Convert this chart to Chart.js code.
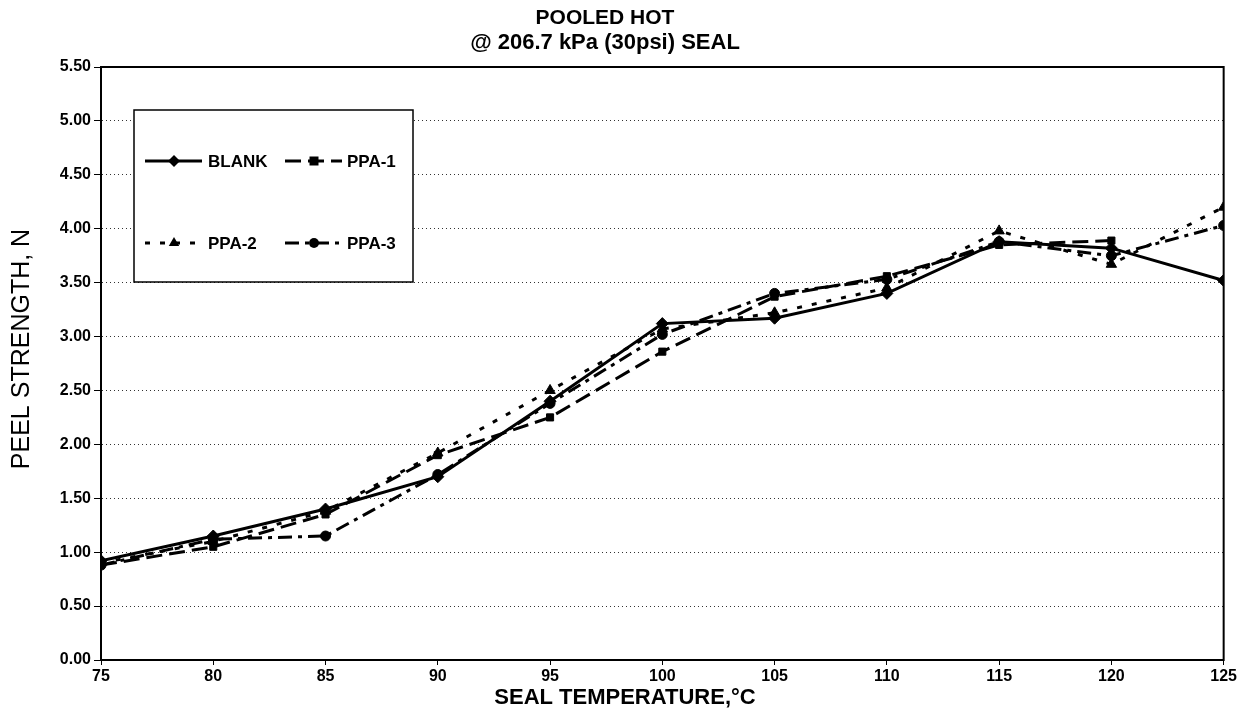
<!DOCTYPE html>
<html><head><meta charset="utf-8">
<script src="https://cdn.jsdelivr.net/npm/chart.js@4/dist/chart.umd.min.js"></script>
<style>html,body{margin:0;padding:0;background:#fff;}</style>
</head><body>
<canvas id="c" width="1239" height="725"></canvas>
<script>
const temperatures = [75, 80, 85, 90, 95, 100, 105, 110, 115, 120, 125];
const blank = [0.92, 1.15, 1.40, 1.70, 2.40, 3.12, 3.17, 3.40, 3.88, 3.82, 3.52];
const ppa1  = [0.88, 1.05, 1.35, 1.90, 2.25, 2.86, 3.37, 3.56, 3.85, 3.89, null];
const ppa2  = [0.90, 1.10, 1.38, 1.92, 2.50, 3.07, 3.22, 3.45, 3.98, 3.67, 4.20];
const ppa3  = [0.88, 1.12, 1.15, 1.72, 2.38, 3.02, 3.40, 3.53, 3.88, 3.75, 4.03];
const seriesNames = ['BLANK', 'PPA-1', 'PPA-2', 'PPA-3'];
const titleLines = ['POOLED HOT', '@ 206.7 kPa (30psi) SEAL'];
const xTitle = 'SEAL TEMPERATURE,\u00B0C';
const yTitle = 'PEEL STRENGTH, N';

const FONT = '"Liberation Sans", Arial, sans-serif';
const toPts = arr => temperatures.map((t, i) => ({x: t, y: arr[i]}));

const styles = [
  {pointStyle: 'rectRot', pointRadius: 6, borderDash: []},
  {pointStyle: 'rect', pointRadius: 5, borderDash: [16, 7]},
  {pointStyle: 'triangle', pointRadius: 6, borderDash: [5, 10]},
  {pointStyle: 'circle', pointRadius: 5, borderDash: [14, 6, 4, 6]}
];
const seriesData = [blank, ppa1, ppa2, ppa3];

const datasets = seriesData.map((arr, i) => ({
  label: seriesNames[i],
  data: toPts(arr),
  borderColor: '#000',
  backgroundColor: '#000',
  pointBackgroundColor: '#000',
  pointBorderColor: '#000',
  borderWidth: 3,
  pointBorderWidth: 1,
  tension: 0,
  spanGaps: false,
  ...styles[i]
}));

function drawMarker(ctx, style, r, x, y) {
  ctx.beginPath();
  if (style === 'rectRot') {
    ctx.moveTo(x, y - r); ctx.lineTo(x + r, y); ctx.lineTo(x, y + r); ctx.lineTo(x - r, y); ctx.closePath();
  } else if (style === 'rect') {
    ctx.rect(x - r * 0.9, y - r * 0.9, r * 1.8, r * 1.8);
  } else if (style === 'triangle') {
    ctx.moveTo(x, y - r); ctx.lineTo(x + r * 0.87, y + r * 0.5); ctx.lineTo(x - r * 0.87, y + r * 0.5); ctx.closePath();
  } else {
    ctx.arc(x, y, r, 0, Math.PI * 2);
  }
  ctx.fill();
}

const framePlugin = {
  id: 'frame',
  afterDatasetsDraw(chart) {
    const {ctx, chartArea: a} = chart;
    ctx.save();
    ctx.strokeStyle = '#000';
    ctx.lineWidth = 2;
    ctx.setLineDash([]);
    ctx.strokeRect(a.left, a.top, a.right - a.left, a.bottom - a.top);
    // legend box
    const x0 = 134, y0 = 110, w = 279, h = 172;
    ctx.fillStyle = '#fff';
    ctx.fillRect(x0, y0, w, h);
    ctx.lineWidth = 1.5;
    ctx.strokeRect(x0, y0, w, h);
    const slots = [[145, 202, 174, 208, 161], [285, 342, 314, 347, 161], [145, 202, 174, 208, 243], [285, 342, 314, 347, 243]];
    chart.data.datasets.forEach((ds, i) => {
      const [l1, l2, mx, tx, ty] = slots[i];
      ctx.strokeStyle = '#000';
      ctx.lineWidth = 3;
      ctx.setLineDash(ds.borderDash);
      ctx.beginPath(); ctx.moveTo(l1, ty); ctx.lineTo(l2, ty); ctx.stroke();
      ctx.setLineDash([]);
      ctx.fillStyle = '#000';
      drawMarker(ctx, ds.pointStyle, ds.pointRadius, mx, ty);
      ctx.font = 'bold 17px ' + FONT;
      ctx.textBaseline = 'middle';
      ctx.textAlign = 'left';
      ctx.fillText(ds.label, tx, ty + 1);
    });
    // titles
    ctx.fillStyle = '#000';
    ctx.textAlign = 'center';
    ctx.textBaseline = 'middle';
    ctx.font = 'bold 21px ' + FONT;
    ctx.fillText(titleLines[0], 605, 18);
    ctx.font = 'bold 22px ' + FONT;
    ctx.fillText(titleLines[1], 605, 43);
    ctx.font = 'bold 22px ' + FONT;
    ctx.fillText(xTitle, 625, 698);
    ctx.save();
    ctx.translate(22, 349);
    ctx.rotate(-Math.PI / 2);
    ctx.font = '25px ' + FONT;
    ctx.fillText(yTitle, 0, 0);
    ctx.restore();
    ctx.restore();
  }
};

new Chart(document.getElementById('c'), {
  type: 'line',
  data: {datasets},
  plugins: [framePlugin],
  options: {
    responsive: false,
    animation: false,
    devicePixelRatio: 1,
    layout: {padding: {left: 0, right: 12, top: 67, bottom: 0}},
    plugins: {
      legend: {display: false},
      tooltip: {enabled: false},
      title: {display: false}
    },
    scales: {
      x: {
        type: 'linear',
        min: 75, max: 125,
        ticks: {stepSize: 5, color: '#000', font: {family: FONT, size: 16, weight: 'bold'}, padding: 2},
        grid: {drawOnChartArea: false, drawTicks: true, tickLength: 5, color: '#000'},
        border: {display: true, color: '#000', width: 2},
        afterFit(s) { s.height = 65; }
      },
      y: {
        min: 0, max: 5.5,
        ticks: {stepSize: 0.5, color: '#000', font: {family: FONT, size: 16, weight: 'bold'}, padding: 3,
          callback: v => Number(v).toFixed(2)},
        grid: {color: '#333', lineWidth: 1, tickBorderDash: [], tickColor: '#000', tickLength: 7, drawTicks: true},
        border: {display: true, color: '#000', width: 2, dash: [1, 3]},
        afterFit(s) { s.width = 101; }
      }
    }
  }
});
</script>
</body></html>
